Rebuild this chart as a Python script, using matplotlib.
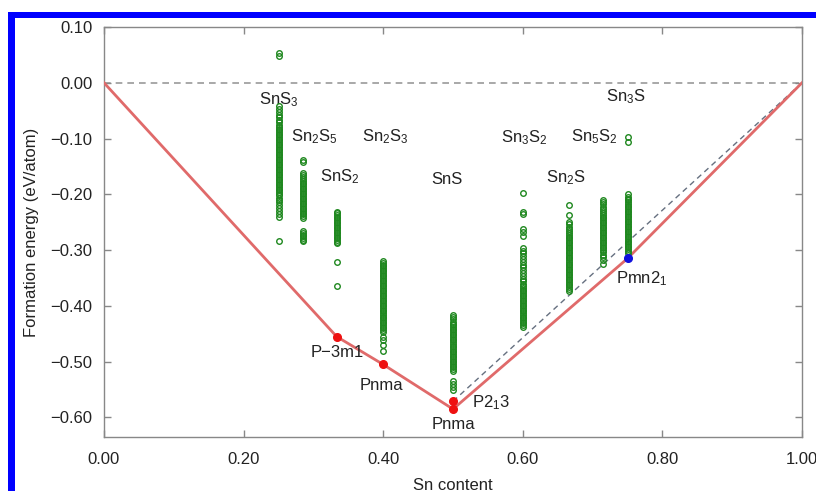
import matplotlib
matplotlib.use("Agg")
import matplotlib.pyplot as plt
from matplotlib.patches import Rectangle

plt.rcParams['font.family'] = ['Liberation Sans', 'DejaVu Sans']
plt.rcParams['mathtext.fontset'] = 'custom'
plt.rcParams['mathtext.rm'] = 'Liberation Sans'
plt.rcParams['mathtext.it'] = 'Liberation Sans'
plt.rcParams['mathtext.default'] = 'regular'

# ---- data ----
compositions = ["SnS3", "Sn2S5", "SnS2", "Sn2S3", "SnS", "Sn3S2", "Sn2S", "Sn5S2", "Sn3S"]
sn_content = [0.25, 2/7, 1/3, 0.4, 0.5, 0.6, 2/3, 5/7, 0.75]

e_SnS3 = [0.054, 0.048, -0.042, -0.047, -0.052, -0.057, -0.062, -0.067, -0.071, -0.075,
          -0.079, -0.082, -0.085, -0.088, -0.091, -0.094, -0.097, -0.100, -0.103, -0.106,
          -0.109, -0.112, -0.115, -0.118, -0.121, -0.124, -0.127, -0.130, -0.133, -0.136,
          -0.139, -0.142, -0.145, -0.148, -0.151, -0.154, -0.157, -0.160, -0.163, -0.166,
          -0.169, -0.172, -0.175, -0.178, -0.181, -0.184, -0.187, -0.190, -0.193, -0.196,
          -0.199, -0.202, -0.206, -0.210, -0.214, -0.219, -0.224, -0.229, -0.235, -0.240,
          -0.284]
e_Sn2S5 = [-0.138, -0.142, -0.161, -0.165, -0.169, -0.173, -0.176, -0.179, -0.182, -0.185,
           -0.188, -0.191, -0.194, -0.197, -0.200, -0.203, -0.206, -0.209, -0.212, -0.215,
           -0.218, -0.221, -0.224, -0.227, -0.230, -0.233, -0.236, -0.239, -0.242,
           -0.266, -0.269, -0.272, -0.275, -0.278, -0.281, -0.284]
e_SnS2 = [-0.231, -0.234, -0.237, -0.240, -0.243, -0.246, -0.249, -0.252, -0.255, -0.258,
          -0.261, -0.264, -0.267, -0.270, -0.273, -0.276, -0.279, -0.282, -0.285, -0.288,
          -0.322, -0.365]
e_Sn2S3 = [-0.320, -0.323, -0.326, -0.329, -0.332, -0.335, -0.338, -0.341, -0.344, -0.347,
           -0.350, -0.353, -0.356, -0.359, -0.362, -0.365, -0.368, -0.371, -0.374, -0.377,
           -0.380, -0.383, -0.386, -0.389, -0.392, -0.395, -0.398, -0.401, -0.404, -0.407,
           -0.410, -0.413, -0.416, -0.419, -0.422, -0.425, -0.428, -0.431, -0.434, -0.437,
           -0.440, -0.443, -0.447, -0.455, -0.462, -0.470, -0.481]
e_SnS = [-0.416, -0.420, -0.424, -0.428, -0.432, -0.435, -0.438, -0.441, -0.444, -0.447,
         -0.450, -0.453, -0.456, -0.459, -0.462, -0.465, -0.468, -0.471, -0.474, -0.477,
         -0.480, -0.483, -0.486, -0.489, -0.492, -0.495, -0.498, -0.501, -0.504, -0.507,
         -0.510, -0.513, -0.516, -0.534, -0.540, -0.545, -0.551]
e_Sn3S2 = [-0.197, -0.232, -0.236, -0.262, -0.268, -0.275, -0.296, -0.301, -0.306, -0.311,
           -0.316, -0.321, -0.326, -0.331, -0.336, -0.341, -0.346, -0.351, -0.356, -0.360,
           -0.364, -0.368, -0.371, -0.374, -0.377, -0.380, -0.383, -0.386, -0.389, -0.392,
           -0.395, -0.398, -0.401, -0.404, -0.407, -0.410, -0.413, -0.416, -0.419, -0.422,
           -0.425, -0.428, -0.431, -0.434, -0.437]
e_Sn2S = [-0.219, -0.237, -0.249, -0.254, -0.258, -0.262, -0.266, -0.270, -0.273, -0.276,
          -0.279, -0.282, -0.285, -0.288, -0.291, -0.294, -0.297, -0.300, -0.303, -0.306,
          -0.309, -0.312, -0.315, -0.318, -0.321, -0.324, -0.327, -0.330, -0.333, -0.336,
          -0.339, -0.342, -0.345, -0.348, -0.351, -0.354, -0.357, -0.360, -0.363, -0.366,
          -0.369, -0.373]
e_Sn5S2 = [-0.210, -0.214, -0.218, -0.222, -0.226, -0.230, -0.234, -0.237, -0.240, -0.243,
           -0.246, -0.249, -0.252, -0.255, -0.258, -0.261, -0.264, -0.267, -0.270, -0.273,
           -0.276, -0.279, -0.282, -0.285, -0.288, -0.291, -0.294, -0.297, -0.300, -0.304,
           -0.308, -0.313, -0.318, -0.324]
e_Sn3S = [-0.097, -0.106, -0.200, -0.204, -0.208, -0.211, -0.214, -0.217, -0.220, -0.223,
          -0.226, -0.229, -0.232, -0.235, -0.238, -0.241, -0.244, -0.247, -0.250, -0.253,
          -0.256, -0.259, -0.262, -0.265, -0.268, -0.271, -0.274, -0.277, -0.280, -0.283,
          -0.286, -0.289, -0.292, -0.295, -0.298, -0.301, -0.305]
energies = [e_SnS3, e_Sn2S5, e_SnS2, e_Sn2S3, e_SnS, e_Sn3S2, e_Sn2S, e_Sn5S2, e_Sn3S]

hull_x = [0.0, 1/3, 0.4, 0.5, 0.75, 1.0]
hull_y = [0.0, -0.455, -0.505, -0.585, -0.315, 0.0]

red_x = [1/3, 0.4, 0.5, 0.5]
red_y = [-0.455, -0.505, -0.571, -0.585]
blue_x = [0.75]
blue_y = [-0.315]

meta_x = [0.5, 1.0]
meta_y = [-0.571, 0.0]

comp_labels = [r"SnS$_3$", r"Sn$_2$S$_5$", r"Sn$_2$S$_3$", r"SnS$_2$", "SnS",
               r"Sn$_3$S$_2$", r"Sn$_2$S", r"Sn$_5$S$_2$", r"Sn$_3$S"]
comp_label_x = [0.251, 0.301, 0.403, 0.338, 0.491, 0.602, 0.662, 0.702, 0.748]
comp_label_y = [-0.030, -0.097, -0.097, -0.168, -0.174, -0.099, -0.170, -0.097, -0.025]

sg_labels = ["P\u22123m1", "Pnma", r"P2$_1$3", "Pnma", r"Pmn2$_1$"]
sg_x = [0.334, 0.398, 0.555, 0.500, 0.771]
sg_y = [-0.483, -0.543, -0.573, -0.613, -0.352]

xticks = [0.0, 0.2, 0.4, 0.6, 0.8, 1.0]
yticks = [0.10, 0.00, -0.10, -0.20, -0.30, -0.40, -0.50, -0.60]

# ---- figure ----
fig = plt.figure(figsize=(8.16, 4.91), dpi=100)
ax = fig.add_axes([104/816, 1 - 437/491, (802-104)/816, (437-27)/491])

ax.plot([0, 1], [0, 0], ls=(0, (4, 3)), color='#999999', lw=1.2, zorder=1)
ax.plot(meta_x, meta_y, ls=(0, (4, 3)), color='#667080', lw=1.0, zorder=2)
ax.plot(hull_x, hull_y, color='#e06a6a', lw=2.0, zorder=3)

for x, ys in zip(sn_content, energies):
    ax.plot([x]*len(ys), ys, ls='none', marker='o', ms=4.0, mfc='none',
            mec='#1f881f', mew=1.0, zorder=4)

ax.plot(red_x, red_y, ls='none', marker='o', ms=5.5, color='#ee1111', zorder=5)
ax.plot(blue_x, blue_y, ls='none', marker='o', ms=5.5, color='#1010dd', zorder=5)

fs = 12
for t, x, y in zip(comp_labels, comp_label_x, comp_label_y):
    ax.text(x, y, t, ha='center', va='center', fontsize=fs, color='#222222')
for t, x, y in zip(sg_labels, sg_x, sg_y):
    ax.text(x, y, t, ha='center', va='center', fontsize=fs, color='#222222')

ax.set_xlim(0, 1)
ax.set_ylim(-0.635, 0.10)
ax.set_xticks(xticks)
ax.set_yticks(yticks)
ax.set_xticklabels([f"{v:.2f}" for v in xticks])
ax.set_yticklabels([f"{v:.2f}".replace('-', '\u2212') for v in yticks])
ax.tick_params(direction='in', length=5, width=1, color='#888888', labelsize=fs,
               labelcolor='#222222', top=True, right=True)
ax.tick_params(axis='x', pad=11)
ax.tick_params(axis='y', pad=8.5)
for s in ax.spines.values():
    s.set_color('#888888')
    s.set_linewidth(1.0)

ax.set_xlabel("Sn content", fontsize=fs, color='#222222', labelpad=7.5)
ax.set_ylabel("Formation energy (eV/atom)", fontsize=fs, color='#222222', labelpad=8)

# blue frame (top and left)
fig.add_artist(Rectangle((8/816, 1 - 18/491), 1 - 8/816, 6/491, transform=fig.transFigure,
                         facecolor='#0000ff', edgecolor='none'))
fig.add_artist(Rectangle((8/816, 0), 7/816, 1 - 12/491, transform=fig.transFigure,
                         facecolor='#0000ff', edgecolor='none'))

fig.savefig("out.png", dpi=100)
